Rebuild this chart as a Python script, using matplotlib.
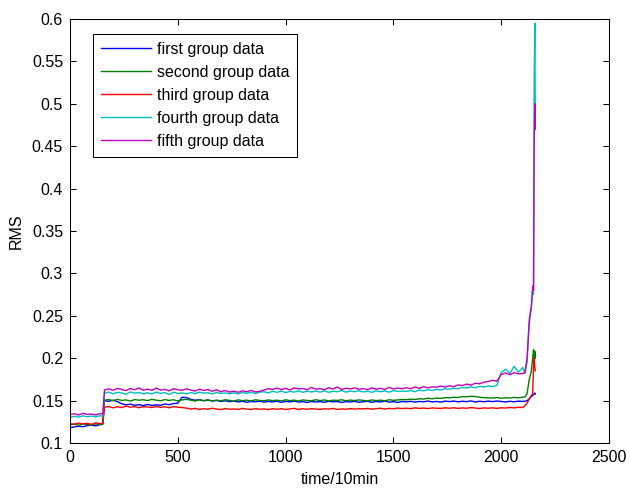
import numpy as np
import matplotlib.pyplot as plt

plt.rcParams['font.family'] = ['Liberation Sans', 'DejaVu Sans']
plt.rcParams['font.size'] = 11.5

# sample positions (time/10min)
x_pre = [0, 20, 40, 60, 80, 100, 120, 140, 152]
x_mid = list(range(160, 2101, 20))
x_tail = [2110, 2120, 2130, 2140, 2146, 2150, 2153, 2156, 2158]
t = x_pre + x_mid + x_tail

# RMS values, in units of 1e-4
first = [1180, 1190, 1198, 1192, 1205, 1210, 1202, 1218, 1222,
         1500, 1492, 1505, 1488, 1462, 1450, 1458, 1445, 1452, 1440,
         1455, 1442, 1450, 1445, 1460, 1452, 1465, 1470, 1540, 1535,
         1515, 1505, 1510, 1498, 1506, 1495, 1502, 1490, 1498, 1488,
         1495, 1485, 1492, 1480, 1490, 1486, 1494, 1482, 1490, 1485,
         1492, 1480, 1490, 1485, 1495, 1482, 1488, 1478, 1490, 1484,
         1488, 1480, 1492, 1485, 1490, 1478, 1488, 1484, 1492, 1480,
         1486, 1492, 1480, 1490, 1484, 1495, 1482, 1488, 1478, 1490,
         1485, 1492, 1482, 1490, 1486, 1495, 1484, 1490, 1482, 1494,
         1488, 1495, 1485, 1492, 1488, 1496, 1484, 1492, 1486, 1494,
         1488, 1495, 1490, 1484, 1492, 1486, 1494, 1490,
         1492, 1500, 1520, 1550, 1560, 1570, 1580, 1590, 1580]

second = [1215, 1222, 1210, 1225, 1218, 1212, 1226, 1215, 1220,
          1505, 1512, 1498, 1515, 1502, 1508, 1495, 1512, 1505, 1510,
          1500, 1515, 1505, 1498, 1512, 1502, 1510, 1496, 1508, 1515,
          1505, 1495, 1510, 1500, 1508, 1496, 1505, 1498, 1510, 1502,
          1495, 1508, 1500, 1505, 1496, 1510, 1502, 1498, 1508, 1500,
          1505, 1496, 1510, 1500, 1506, 1495, 1508, 1502, 1498, 1510,
          1500, 1508, 1496, 1505, 1502, 1510, 1498, 1506, 1500, 1508,
          1502, 1496, 1508, 1500, 1505, 1498, 1510, 1503, 1508, 1512,
          1510, 1518, 1512, 1522, 1518, 1528, 1522, 1530, 1526, 1535,
          1532, 1540, 1536, 1548, 1545, 1552, 1548, 1540, 1535, 1532,
          1530, 1536, 1528, 1534, 1530, 1538, 1532, 1540,
          1545, 1580, 1750, 1850, 2000, 2100, 1950, 2080, 2000]

third = [1230, 1222, 1235, 1225, 1232, 1220, 1238, 1228, 1232,
         1420, 1432, 1415, 1428, 1418, 1435, 1422, 1430, 1416, 1428,
         1425, 1418, 1432, 1420, 1428, 1415, 1430, 1422, 1418, 1412,
         1400, 1408, 1395, 1405, 1398, 1410, 1400, 1395, 1406, 1398,
         1402, 1396, 1408, 1400, 1395, 1405, 1398, 1402, 1394, 1405,
         1398, 1405, 1395, 1402, 1408, 1396, 1404, 1398, 1405, 1400,
         1396, 1404, 1400, 1408, 1395, 1402, 1398, 1406, 1400, 1404,
         1402, 1408, 1398, 1405, 1410, 1400, 1408, 1404, 1412, 1406,
         1410, 1405, 1415, 1408, 1412, 1406, 1414, 1410, 1408, 1415,
         1410, 1416, 1408, 1414, 1410, 1418, 1412, 1406, 1414, 1410,
         1415, 1408, 1416, 1412, 1420, 1414, 1422, 1418,
         1440, 1470, 1520, 1560, 1580, 1900, 2000, 1900, 1850]

fourth = [1300, 1315, 1305, 1320, 1310, 1318, 1308, 1322, 1315,
          1585, 1600, 1580, 1598, 1590, 1575, 1602, 1588, 1595, 1580,
          1592, 1578, 1600, 1585, 1595, 1572, 1598, 1584, 1590, 1580,
          1595, 1582, 1600, 1588, 1592, 1578, 1596, 1585, 1590, 1580,
          1592, 1578, 1596, 1585, 1598, 1582, 1600, 1605, 1590, 1610,
          1598, 1612, 1595, 1608, 1600, 1615, 1598, 1610, 1602, 1612,
          1600, 1615, 1598, 1610, 1605, 1618, 1600, 1612, 1605, 1615,
          1602, 1610, 1598, 1615, 1605, 1612, 1600, 1618, 1608, 1612,
          1610, 1618, 1605, 1625, 1615, 1628, 1620, 1632, 1625, 1640,
          1635, 1645, 1640, 1655, 1648, 1660, 1652, 1668, 1660, 1672,
          1665, 1680, 1830, 1870, 1820, 1905, 1835, 1890,
          1820, 1950, 2400, 2600, 2800, 2750, 5300, 5950, 4900]

fifth = [1335, 1345, 1330, 1350, 1338, 1342, 1330, 1348, 1340,
         1625, 1640, 1620, 1645, 1630, 1618, 1642, 1628, 1650, 1622,
         1635, 1620, 1648, 1625, 1632, 1615, 1640, 1628, 1622, 1638,
         1625, 1612, 1635, 1620, 1630, 1610, 1628, 1605, 1618, 1600,
         1612, 1598, 1615, 1605, 1620, 1602, 1610, 1625, 1640, 1632,
         1648, 1630, 1645, 1625, 1650, 1638, 1642, 1628, 1655, 1635,
         1640, 1628, 1652, 1636, 1660, 1630, 1645, 1638, 1650, 1632,
         1642, 1628, 1650, 1635, 1645, 1630, 1655, 1638, 1648, 1640,
         1652, 1640, 1660, 1645, 1665, 1650, 1662, 1658, 1672, 1660,
         1675, 1665, 1685, 1678, 1695, 1682, 1705, 1698, 1718, 1725,
         1740, 1728, 1810, 1825, 1805, 1830, 1815, 1820,
         1830, 2000, 2450, 2620, 2850, 2800, 4600, 5000, 4700]

labels = ["first group data", "second group data", "third group data",
          "fourth group data", "fifth group data"]
colors = [(0, 0, 1), (0, 0.5, 0), (1, 0, 0), (0, 0.75, 0.75), (0.75, 0, 0.75)]

fig = plt.figure(figsize=(6.31, 4.88), dpi=100)
ax = fig.add_axes([70/631, 45/488, 539/631, 424/488])

for vals, lab, c in zip([first, second, third, fourth, fifth], labels, colors):
    ax.plot(t, np.array(vals) / 10000.0, color=c, lw=1.0, label=lab)

ax.set_xlim(0, 2500)
ax.set_ylim(0.1, 0.6)
ax.set_xticks([0, 500, 1000, 1500, 2000, 2500])
yt = [0.1, 0.15, 0.2, 0.25, 0.3, 0.35, 0.4, 0.45, 0.5, 0.55, 0.6]
ax.set_yticks(yt)
ax.set_yticklabels(['0.1', '0.15', '0.2', '0.25', '0.3', '0.35', '0.4',
                    '0.45', '0.5', '0.55', '0.6'])
ax.tick_params(direction='in', length=4, width=0.75, top=True, right=True,
               labelsize=11.5, pad=5)
for s in ax.spines.values():
    s.set_linewidth(0.75)

ax.set_xlabel("time/10min", fontsize=11.5, labelpad=5)
ax.set_ylabel("RMS", fontsize=11.5, labelpad=6)

leg = ax.legend(loc='upper left', bbox_to_anchor=(0.0427, 0.9646), borderaxespad=0,
                fancybox=False, framealpha=1, edgecolor='black', fontsize=11.5,
                handlelength=3.1, handletextpad=0.4, labelspacing=0.5, borderpad=0.5)
leg.get_frame().set_linewidth(0.75)

fig.savefig("out.png", dpi=100)
